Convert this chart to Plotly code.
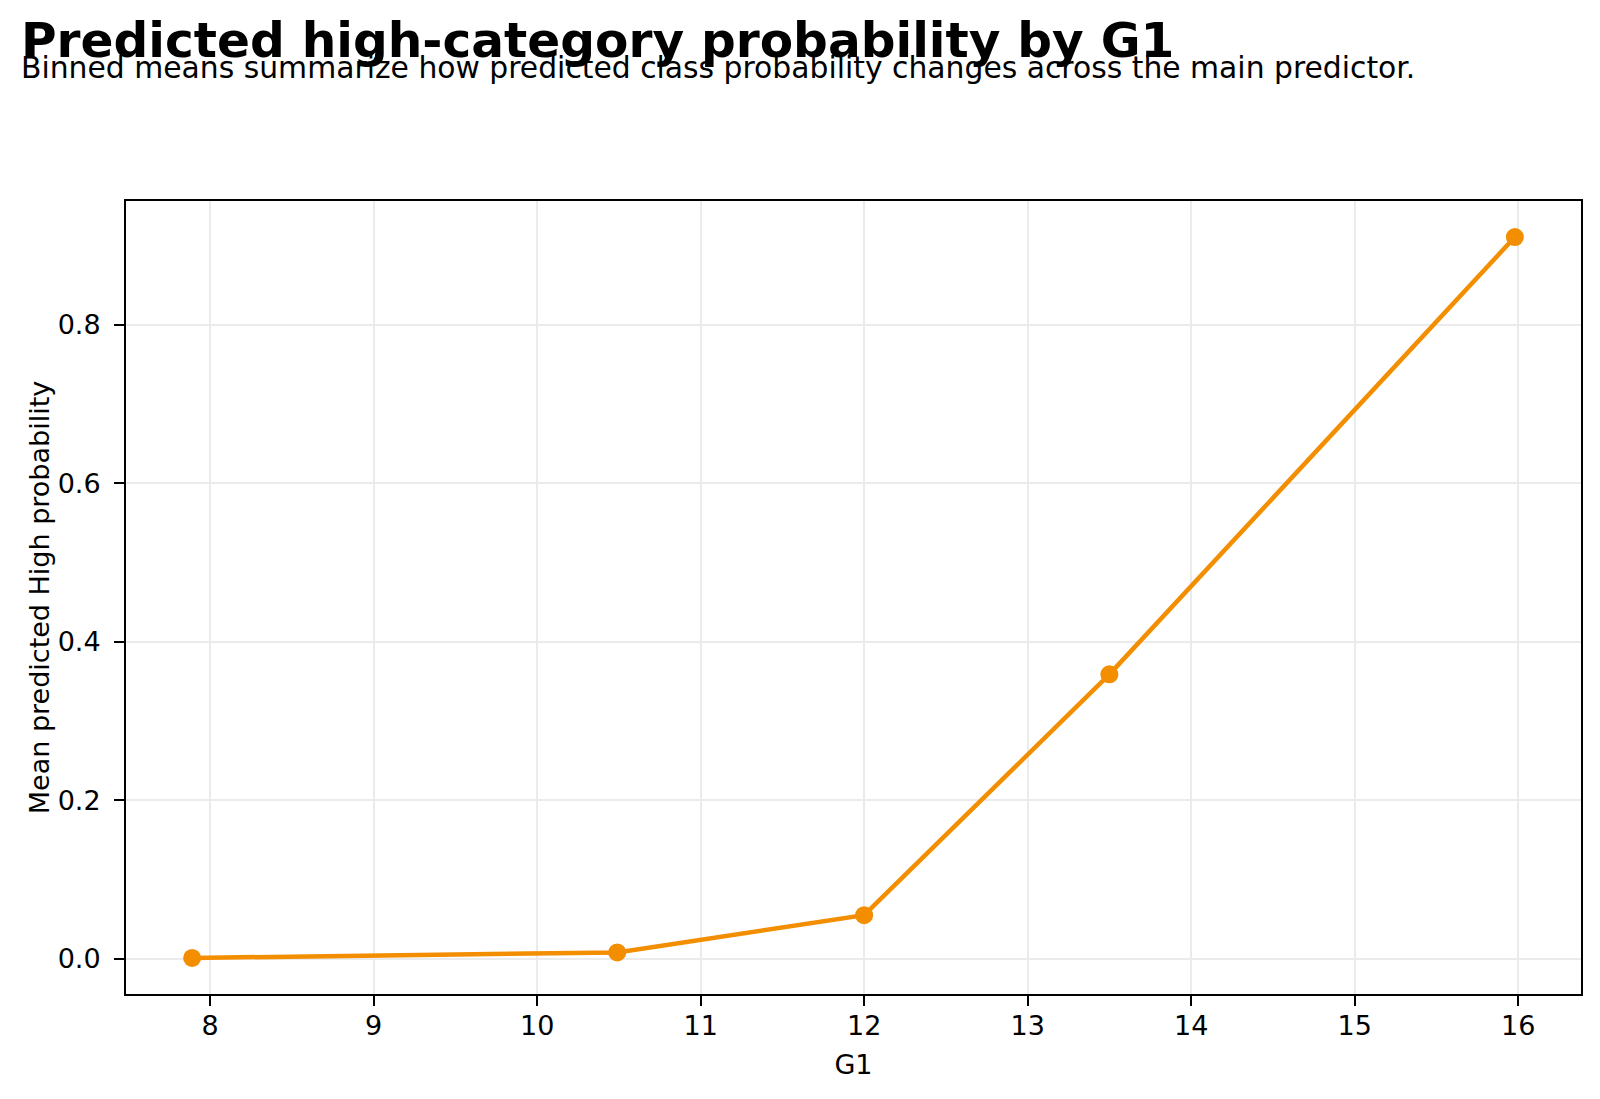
import plotly.graph_objects as go

g1_bins = [7.89, 10.49, 12.0, 13.5, 15.98]
mean_prob_high = [0.001, 0.008, 0.055, 0.359, 0.911]
x_ticks = [8, 9, 10, 11, 12, 13, 14, 15, 16]
y_ticks = [0.0, 0.2, 0.4, 0.6, 0.8]

title_text = "Predicted high-category probability by G1"
subtitle_text = "Binned means summarize how predicted class probability changes across the main predictor."

W, H = 1600, 1099
ml, mr, mt, mb = 125.5, 19.4, 201, 105
pw, ph = W - ml - mr, H - mt - mb

def px_to_paper_x(px):
    return (px - ml) / pw

def px_to_paper_y(py):
    return (H - mb - py) / ph

xmin, xmax = min(g1_bins), max(g1_bins)
xpad = 0.05 * (xmax - xmin)
ymin, ymax = min(mean_prob_high), max(mean_prob_high)
ypad = 0.05 * (ymax - ymin)

font_family = "DejaVu Sans"
orange = "#f28e00"
tick_size = 27
label_size = 27

fig = go.Figure()
fig.add_trace(go.Scatter(
    x=g1_bins, y=mean_prob_high, mode="lines+markers",
    line=dict(color=orange, width=4.5),
    marker=dict(color=orange, size=18),
    showlegend=False,
))

axis_common = dict(
    showline=True, linecolor="black", linewidth=2, mirror=True,
    ticks="outside", ticklen=10, tickwidth=2, tickcolor="black",
    showgrid=True, gridcolor="#ebebeb", gridwidth=2,
    zeroline=False,
    tickfont=dict(family=font_family, size=tick_size, color="black"),
)

fig.update_layout(
    width=W, height=H,
    margin=dict(l=ml, r=mr, t=mt, b=mb, autoexpand=False),
    paper_bgcolor="white", plot_bgcolor="white",
    font=dict(family=font_family, color="black"),
    xaxis=dict(
        range=[xmin - xpad, xmax + xpad],
        tickvals=x_ticks, ticktext=[str(v) for v in x_ticks],
        ticklabelstandoff=-3,
        title=dict(text="G1", font=dict(family=font_family, size=label_size), standoff=15),
        **axis_common,
    ),
    yaxis=dict(
        range=[ymin - ypad, ymax + ypad],
        tickvals=y_ticks, ticktext=[f"{v:.1f}" for v in y_ticks],
        ticklabelstandoff=8,
        title=dict(text="Mean predicted High probability", font=dict(family=font_family, size=label_size), standoff=0),
        **axis_common,
    ),
    annotations=[
        dict(text="<b>" + title_text + "</b>", xref="paper", yref="paper",
             x=px_to_paper_x(18), y=px_to_paper_y(40), xanchor="left", yanchor="middle",
             showarrow=False, font=dict(family=font_family, size=48.6, color="black")),
        dict(text=subtitle_text, xref="paper", yref="paper",
             x=px_to_paper_x(18), y=px_to_paper_y(68), xanchor="left", yanchor="middle",
             showarrow=False, font=dict(family=font_family, size=29.8, color="black")),
    ],
)

fig.write_html("out.html")
